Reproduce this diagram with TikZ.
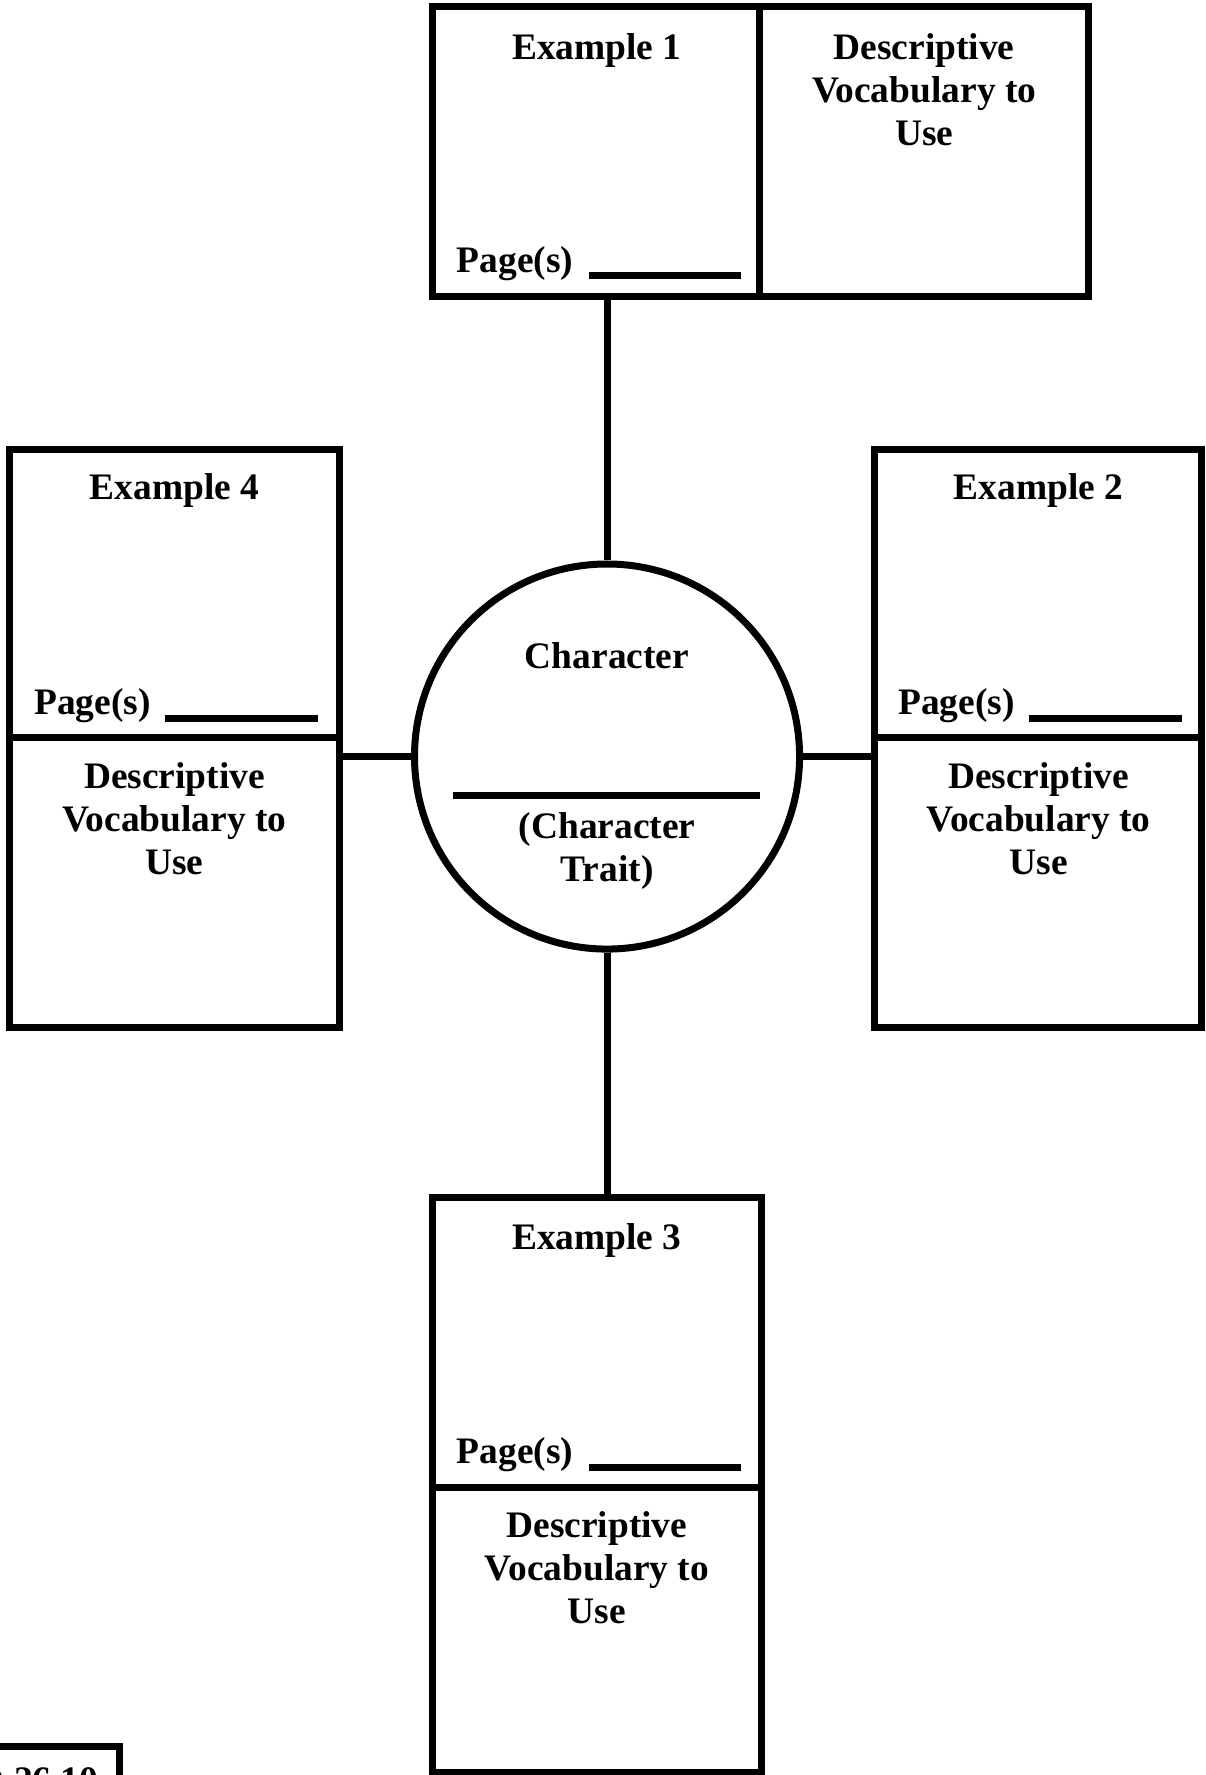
\documentclass[tikz,border=0pt]{standalone}
\usepackage{fontspec}
\setmainfont{Liberation Serif}
\begin{document}
\begin{tikzpicture}[x=0.25mm, y=-0.25mm]%
	\tikzstyle{box}=[rectangle, draw=black, line width=4.4pt, inner sep=0pt];
	\tikzstyle{txt}=[inner sep=0pt, align=center, font=\fontsize{23.5pt}{27pt}\selectfont\bfseries];
	\tikzstyle{link}=[line width=4.4pt];
	\tikzstyle{blank}=[line width=4.4pt];
	\useasboundingbox (0, 0) rectangle (1064, 1567.3);
	\node at (526.5, 134) [box, minimum width=72.25mm, minimum height=64mm] (ex1) {};
	\node at (816, 134) [box, minimum width=72.5mm, minimum height=64mm] (voc1) {};
	\node at (916.5, 524) [box, minimum width=72.25mm, minimum height=63.5mm] (ex2) {};
	\node at (916.5, 779) [box, minimum width=72.25mm, minimum height=64mm] (voc2) {};
	\node at (527, 1185) [box, minimum width=72.5mm, minimum height=64mm] (ex3) {};
	\node at (527, 1439) [box, minimum width=72.5mm, minimum height=63mm] (voc3) {};
	\node at (154, 524) [box, minimum width=73mm, minimum height=63.5mm] (ex4) {};
	\node at (154, 779) [box, minimum width=73mm, minimum height=64mm] (voc4) {};
	\node at (536, 668) [circle, draw=black, line width=4.4pt, minimum size=85mm, inner sep=0pt] (circ) {};
	\node at (109, 1539) [box, anchor=north east, minimum width=40mm, minimum height=20mm] (codebox) {};
	\draw[link] (circ.north) -- (circ.north |- ex1.south);
	\draw[link] (circ.east) -- (circ.east -| voc2.west);
	\draw[link] (circ.south) -- (circ.south |- ex3.north);
	\draw[link] (circ.west) -- (circ.west -| voc4.east);
	\node at (527, 29) [txt, anchor=north] (ex1title) {Example 1};
	\node at (403, 241) [txt, anchor=base west] (ex1page) {Page(s)};
	\draw[blank] (520, 243) -- (654, 243);
	\node at (816, 29) [txt, anchor=north] (voc1text) {Descriptive\\Vocabulary to\\Use};
	\node at (917, 418) [txt, anchor=north] (ex2title) {Example 2};
	\node at (793, 631) [txt, anchor=base west] (ex2page) {Page(s)};
	\draw[blank] (909, 634) -- (1044, 634);
	\node at (917, 673) [txt, anchor=north] (voc2text) {Descriptive\\Vocabulary to\\Use};
	\node at (527, 1080) [txt, anchor=north] (ex3title) {Example 3};
	\node at (403, 1292) [txt, anchor=base west] (ex3page) {Page(s)};
	\draw[blank] (520, 1296) -- (654, 1296);
	\node at (527, 1334) [txt, anchor=north] (voc3text) {Descriptive\\Vocabulary to\\Use};
	\node at (154, 418) [txt, anchor=north] (ex4title) {Example 4};
	\node at (30, 631) [txt, anchor=base west] (ex4page) {Page(s)};
	\draw[blank] (146, 634) -- (281, 634);
	\node at (154, 673) [txt, anchor=north] (voc4text) {Descriptive\\Vocabulary to\\Use};
	\node at (536, 567) [txt, anchor=north] (name) {Character};
	\draw[blank] (400, 702) -- (671, 702);
	\node at (536, 717) [txt, anchor=north] (trait) {(Character\\Trait)};
	\node at (-20, 1583) [txt, anchor=base west] (code) {D 26.10};
\end{tikzpicture}
\end{document}
